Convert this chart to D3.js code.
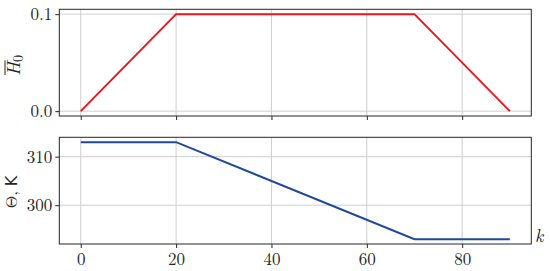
<!DOCTYPE html>
<html><head><meta charset="utf-8">
<script src="https://cdn.jsdelivr.net/npm/d3@7"></script>
<style>body{margin:0;background:#fff} svg text{font-family:"Latin Modern Roman","Liberation Serif",serif}</style>
</head><body>
<svg id="c" width="550" height="271"></svg>
<script>
const kSteps = [0, 20, 70, 90];
const hValues = [0.0, 0.1, 0.1, 0.0];
const thetaK = [0, 20, 70, 90];
const thetaValues = [313, 313, 293, 293];
const xTicks = [0, 20, 40, 60, 80];
const hTicks = [0.0, 0.1];
const thetaTicks = [300, 310];

const svg = d3.select("#c");
const L = 59.3, R = 531.3;
const x = d3.scaleLinear().domain([-4.5, 94.5]).range([L, R]);
const serifFam = '"Latin Modern Roman", "Liberation Serif", serif';
const ink = "#262626";

function panel(top, bottom, yDomain, ticks, fmt, xs, ys, color, showX) {
  const y = d3.scaleLinear().domain(yDomain).range([bottom, top]);
  const g = svg.append("g");
  g.selectAll(".vx").data(xTicks).enter().append("line")
    .attr("x1", d => x(d)).attr("x2", d => x(d)).attr("y1", top).attr("y2", bottom)
    .attr("stroke", "#cfcfcf").attr("stroke-width", 1);
  g.selectAll(".hy").data(ticks).enter().append("line")
    .attr("y1", d => y(d)).attr("y2", d => y(d)).attr("x1", L).attr("x2", R)
    .attr("stroke", "#cfcfcf").attr("stroke-width", 1);
  g.append("path").datum(xs.map((k, i) => [k, ys[i]]))
    .attr("d", d3.line().x(d => x(d[0])).y(d => y(d[1])))
    .attr("fill", "none").attr("stroke", color).attr("stroke-width", 2);
  const ya = d3.axisLeft(y).tickValues(ticks).tickFormat(fmt).tickSize(4).tickPadding(3);
  const ga = g.append("g").attr("transform", `translate(${L},0)`).call(ya);
  const xa = d3.axisBottom(x).tickValues(xTicks).tickSize(4).tickPadding(5)
    .tickFormat(showX ? d3.format("d") : () => "");
  const gx = g.append("g").attr("transform", `translate(0,${bottom})`).call(xa);
  [ga, gx].forEach(a => {
    a.attr("font-family", null).attr("font-size", null);
    a.select(".domain").remove();
    a.selectAll("line").attr("stroke", ink);
    a.selectAll("text").style("font-family", serifFam).style("font-size", "17px").attr("fill", ink);
  });
  g.append("rect").attr("x", L).attr("y", top).attr("width", R - L).attr("height", bottom - top)
    .attr("fill", "none").attr("stroke", ink).attr("stroke-width", 1);
  return y;
}

panel(9.3, 116, [-0.005, 0.105], hTicks, d3.format(".1f"), kSteps, hValues, "#ea1520", false);
panel(137.3, 244, [292, 314], thetaTicks, d3.format("d"), thetaK, thetaValues, "#1d48a0", true);

// H-bar_0 label (rotated)
const lg = svg.append("g").attr("transform", "translate(20,0) rotate(-90)");
const hText = lg.append("text").attr("x", -76).attr("y", 0)
  .style("font-family", serifFam).style("font-size", "19px").attr("fill", ink);
const hSpan = hText.append("tspan").style("font-style", "italic").text("H");
const hw = hSpan.node().getComputedTextLength();
hText.append("tspan").style("font-size", "14px").attr("dy", 3).text("0");
lg.append("line").attr("x1", -76 + 1).attr("x2", -76 + hw + 1.5)
  .attr("y1", -15).attr("y2", -15).attr("stroke", ink).attr("stroke-width", 1);

const l2 = svg.append("text").attr("transform", "translate(17,192) rotate(-90)")
  .attr("text-anchor", "middle").style("font-size", "16px").attr("fill", ink);
l2.append("tspan").style("font-family", serifFam).text("Θ,");
l2.append("tspan").style("font-family", "'DejaVu Sans', sans-serif").text(" K");

svg.append("text").attr("x", 535).attr("y", 241.5).style("font-family", serifFam)
  .style("font-style", "italic").style("font-size", "18px").attr("fill", ink).text("k");
</script>
</body></html>
